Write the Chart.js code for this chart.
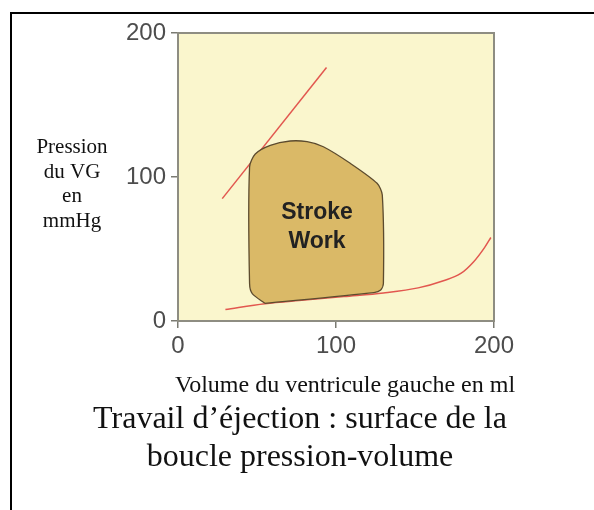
<!DOCTYPE html>
<html>
<head>
<meta charset="utf-8">
<script src="https://cdn.jsdelivr.net/npm/chart.js@4.4.0/dist/chart.umd.min.js"></script>
<style>
  html, body { margin: 0; padding: 0; background: #fff; }
  #wrap { width: 594px; height: 510px; position: relative; }
</style>
</head>
<body>
<div id="wrap"><canvas id="pvChart" width="594" height="510"></canvas></div>
<script>
// Pressure-volume loop of the left ventricle

// Axis ticks
const volumeTicks = [0, 100, 200];
const pressureTicks = [0, 100, 200];

// End-systolic pressure-volume line (straight red line, top left)
const espvrVolume = [28, 94];
const espvrPressure = [85, 176];

// End-diastolic pressure-volume curve (red curve, bottom)
const edpvrVolume = [30, 55, 80, 105, 130, 152, 168, 179, 187, 194, 198];
const edpvrPressure = [8, 12, 14.5, 17, 19.5, 23, 28, 33, 41, 51, 58];

// The loop itself (closed outline, filled = stroke work)
const loopVolume = [55, 47, 45.3, 45.3, 48.9, 58.4, 71, 81.7, 92, 109, 126, 129.3, 130, 128.3, 124, 55];
const loopPressure = [12.3, 19, 26, 107, 116, 122, 125, 124.5, 121, 109.5, 95.6, 87.5, 26, 21.5, 19.7, 12.3];

// Labels
const loopLabel = ['Stroke', 'Work'];
const loopLabelAt = { x: 88, y: [75, 55] };
const yTitleLines = ['Pression', 'du VG', 'en', 'mmHg'];
const xTitle = 'Volume du ventricule gauche en ml';
const captionLines = ['Travail d\u2019éjection : surface de la', 'boucle pression-volume'];

const COLORS = {
  plotBg: '#faf6cd',
  plotBorder: '#8e8d82',
  tick: '#7a7a72',
  tickText: '#4d4d4d',
  red: '#e2574f',
  loopFill: '#dab967',
  loopEdge: '#5c4b2e',
  text: '#111'
};

const SERIF = '"Liberation Serif", "Times New Roman", serif';

const toPoints = (xs, ys) => xs.map((x, i) => ({ x, y: ys[i] }));

// Draws the page frame, plot background/border and all free text
const decorations = {
  id: 'decorations',
  beforeDatasetsDraw(chart) {
    const { ctx, chartArea: a } = chart;
    ctx.save();
    ctx.fillStyle = COLORS.plotBg;
    ctx.fillRect(a.left, a.top, a.right - a.left, a.bottom - a.top);
    ctx.restore();
  },
  afterDatasetsDraw(chart) {
    const { ctx, chartArea: a, scales } = chart;
    ctx.save();
    // plot border
    ctx.strokeStyle = COLORS.plotBorder;
    ctx.lineWidth = 2;
    ctx.strokeRect(a.left, a.top, a.right - a.left, a.bottom - a.top);

    // text inside the loop
    ctx.fillStyle = '#222';
    ctx.font = 'bold 23px "Liberation Sans", Arial, sans-serif';
    ctx.textAlign = 'center';
    ctx.textBaseline = 'middle';
    loopLabel.forEach((t, i) => {
      ctx.fillText(t, scales.x.getPixelForValue(loopLabelAt.x), scales.y.getPixelForValue(loopLabelAt.y[i]));
    });

    // page frame (top and left rule)
    ctx.strokeStyle = '#000';
    ctx.lineWidth = 2;
    ctx.beginPath();
    ctx.moveTo(11, 510);
    ctx.lineTo(11, 13);
    ctx.lineTo(594, 13);
    ctx.stroke();

    // y title, stacked lines
    ctx.fillStyle = COLORS.text;
    ctx.font = '21px ' + SERIF;
    ctx.textBaseline = 'alphabetic';
    yTitleLines.forEach((t, i) => ctx.fillText(t, 72, 153 + i * 24.5));

    // x title
    ctx.font = '24px ' + SERIF;
    ctx.fillText(xTitle, 345, 392);

    // caption
    ctx.font = '32px ' + SERIF;
    captionLines.forEach((t, i) => ctx.fillText(t, 300, 428 + i * 38));
    ctx.restore();
  }
};

const tickFont = { family: '"Liberation Sans", Arial, sans-serif', size: 24 };

new Chart(document.getElementById('pvChart'), {
  type: 'scatter',
  data: {
    datasets: [
      {
        label: 'Boucle',
        data: toPoints(loopVolume, loopPressure),
        showLine: true,
        fill: 'shape',
        backgroundColor: COLORS.loopFill,
        borderColor: COLORS.loopEdge,
        borderWidth: 1.3,
        tension: 0.25,
        pointRadius: 0
      },
      {
        label: 'ESPVR',
        data: toPoints(espvrVolume, espvrPressure),
        showLine: true,
        borderColor: COLORS.red,
        borderWidth: 1.5,
        pointRadius: 0
      },
      {
        label: 'EDPVR',
        data: toPoints(edpvrVolume, edpvrPressure),
        showLine: true,
        borderColor: COLORS.red,
        borderWidth: 1.5,
        cubicInterpolationMode: 'monotone',
        pointRadius: 0
      }
    ]
  },
  options: {
    responsive: false,
    animation: false,
    layout: { padding: { top: 33, right: 100, left: 0, bottom: 0 } },
    plugins: { legend: { display: false }, tooltip: { enabled: false } },
    scales: {
      x: {
        type: 'linear',
        min: volumeTicks[0],
        max: volumeTicks[volumeTicks.length - 1],
        afterBuildTicks: (s) => { s.ticks = volumeTicks.map(v => ({ value: v })); },
        afterFit: (s) => { s.height = 189; },
        border: { display: false },
        grid: { drawOnChartArea: false, tickLength: 7, color: COLORS.tick, lineWidth: 1.5 },
        ticks: { color: COLORS.tickText, font: tickFont, padding: 4, maxRotation: 0 }
      },
      y: {
        type: 'linear',
        min: pressureTicks[0],
        max: pressureTicks[pressureTicks.length - 1],
        afterBuildTicks: (s) => { s.ticks = pressureTicks.map(v => ({ value: v })); },
        afterFit: (s) => { s.width = 178; },
        border: { display: false },
        grid: { drawOnChartArea: false, tickLength: 7, color: COLORS.tick, lineWidth: 1.5 },
        ticks: { color: COLORS.tickText, font: tickFont, padding: 5 }
      }
    }
  },
  plugins: [decorations]
});
</script>
</body>
</html>
